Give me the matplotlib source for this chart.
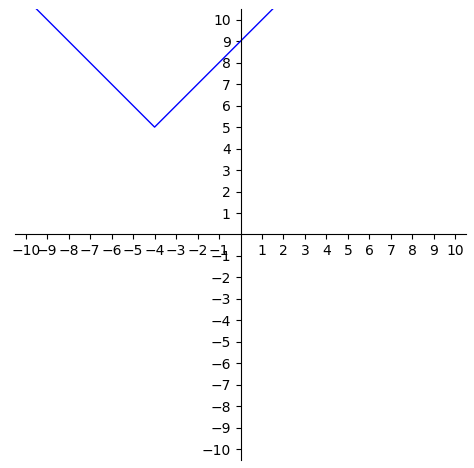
import numpy as np
import matplotlib.pyplot as plt

# y = |x + 4| + 5
x_vals = np.linspace(-10, 10, 401)
y_vals = np.abs(x_vals + 4) + 5

x_ticks = [t for t in range(-10, 11) if t != 0]
y_ticks = [t for t in range(-10, 11) if t != 0]

fig = plt.figure(figsize=(4.74, 4.68), dpi=100)
ax = fig.add_axes([15 / 474, 8 / 468, 451 / 474, 451 / 468])

ax.plot(x_vals, y_vals, color='blue', linewidth=1)

ax.set_xlim(-10.5, 10.5)
ax.set_ylim(-10.5, 10.5)

ax.spines['left'].set_position('zero')
ax.spines['bottom'].set_position('zero')
ax.spines['right'].set_visible(False)
ax.spines['top'].set_visible(False)

ax.set_xticks(x_ticks)
ax.set_yticks(y_ticks)
ax.set_xticklabels([str(t).replace('-', '\u2212') for t in x_ticks])
ax.set_yticklabels([str(t).replace('-', '\u2212') for t in y_ticks])

fig.savefig('out.png', dpi=100)
